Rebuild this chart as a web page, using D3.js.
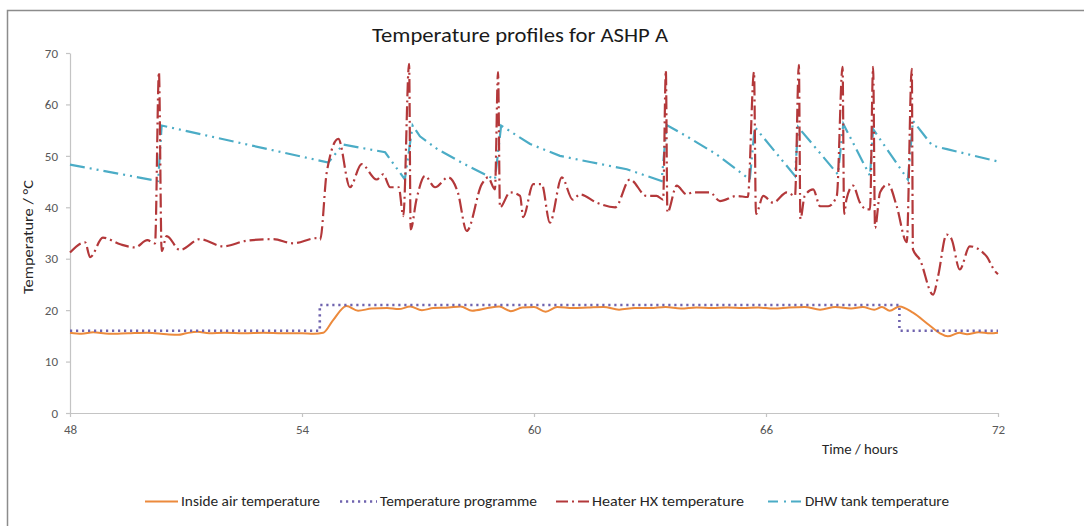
<!DOCTYPE html>
<html><head><meta charset="utf-8">
<script src="https://cdn.jsdelivr.net/npm/d3@7"></script>
<style>
body{margin:0;background:#fff;}
svg{display:block;font-family:Carlito,"Open Sans",sans-serif;}
</style></head>
<body><svg id="c" width="1084" height="526"></svg>
<script>
const xTicks = [48, 54, 60, 66, 72];
const yTicks = [0, 10, 20, 30, 40, 50, 60, 70];
const seriesNames = ["Inside air temperature", "Temperature programme", "Heater HX temperature", "DHW tank temperature"];

const insideAir = [[48,15.6],[48.3,15.4],[48.6,15.7],[49,15.4],[49.5,15.5],[50,15.6],[50.5,15.3],[50.8,15.2],[51,15.5],[51.3,15.8],[51.6,15.5],[52,15.6],[52.5,15.5],[53,15.6],[53.5,15.5],[54,15.5],[54.3,15.4],[54.55,15.6],[54.8,18.0],[55.15,20.8],[55.45,19.9],[55.8,20.3],[56.2,20.4],[56.5,20.2],[56.8,20.7],[57.1,20.0],[57.4,20.4],[57.8,20.5],[58.1,20.7],[58.4,19.9],[58.8,20.4],[59.1,20.7],[59.4,19.8],[59.7,20.5],[60.0,20.6],[60.3,19.7],[60.6,20.6],[61.0,20.4],[61.4,20.5],[61.8,20.6],[62.2,20.1],[62.6,20.4],[63.0,20.4],[63.4,20.6],[63.8,20.3],[64.2,20.5],[64.6,20.4],[65.0,20.5],[65.4,20.4],[65.8,20.5],[66.2,20.3],[66.6,20.5],[67.0,20.6],[67.4,20.1],[67.8,20.6],[68.2,20.3],[68.5,20.6],[68.8,20.1],[69.0,20.6],[69.2,19.9],[69.45,20.7],[69.8,19.5],[70.2,17.2],[70.5,15.5],[70.7,14.9],[71.0,15.6],[71.2,15.3],[71.5,15.7],[71.8,15.5],[72,15.6]];

const programme = [[48,16],[54.46,16],[54.46,21],[69.45,21],[69.45,16],[72,16]];

const heaterHX = [[48.0,31.2],[48.39,33.2],[48.52,30.3],[48.85,34.1],[49.3,32.8],[49.68,32.2],[50.0,33.6],[50.2,33.0],[50.3,66.3],[50.37,31.5],[50.5,34.4],[50.84,31.7],[51.36,33.8],[51.96,32.4],[52.57,33.5],[53.25,33.8],[53.77,33.0],[54.38,34.0],[54.47,33.7],[54.64,46.8],[54.94,53.3],[55.24,43.9],[55.54,48.4],[55.93,45.4],[56.1,46.4],[56.28,43.9],[56.5,43.9],[56.62,38.3],[56.77,67.9],[56.81,35.7],[56.96,41.5],[57.18,46.1],[57.44,43.9],[57.78,45.8],[58.03,42.9],[58.26,35.4],[58.65,44.5],[58.81,45.8],[58.99,43.5],[59.07,66.3],[59.12,40.0],[59.38,42.9],[59.64,42.2],[59.72,38.1],[59.98,44.5],[60.2,44.5],[60.41,37.0],[60.72,45.8],[61.0,41.5],[61.19,42.5],[61.62,40.9],[62.1,40.0],[62.48,45.4],[62.91,42.2],[63.17,42.2],[63.34,41.5],[63.41,66.6],[63.45,39.0],[63.69,44.2],[63.95,42.5],[64.1,42.9],[64.55,42.9],[64.81,41.2],[65.24,42.2],[65.53,42.0],[65.69,66.3],[65.74,38.7],[65.93,42.2],[66.18,40.9],[66.54,42.9],[66.75,42.2],[66.85,67.7],[66.89,37.7],[67.0,42.2],[67.22,43.5],[67.4,40.2],[67.61,40.2],[67.83,42.2],[67.98,67.3],[68.02,38.7],[68.08,41.5],[68.25,44.2],[68.43,40.9],[68.6,39.6],[68.69,39.6],[68.77,67.3],[68.82,36.0],[68.95,42.9],[69.16,44.5],[69.38,40.2],[69.64,33.2],[69.77,66.9],[69.8,31.8],[69.98,29.8],[70.32,23.0],[70.45,26.6],[70.67,34.7],[70.8,33.8],[71.01,27.9],[71.27,32.4],[71.7,30.5],[71.92,27.6],[72,27.0]];

const dhwTank = [[48,48.3],[50.28,45.1],[50.37,55.9],[54.68,48.7],[55.06,52.2],[56.15,50.7],[56.66,45.4],[56.86,55.9],[57.05,53.8],[57.5,51.3],[58.2,48.4],[58.99,45.4],[59.15,55.9],[59.9,52.3],[60.67,50.0],[61.45,48.8],[62.4,47.4],[63.3,45.1],[63.43,56.0],[63.95,53.8],[64.72,50.3],[65.58,45.4],[65.71,55.6],[66.75,46.1],[66.83,55.6],[67.86,46.4],[68.0,56.2],[68.69,46.1],[68.77,55.2],[69.67,45.4],[69.8,56.8],[70.3,52.0],[70.68,51.3],[72,48.9]];

const svg = d3.select("#c");
const colors = ["#EC8A3C", "#6F63AE", "#B3383A", "#4BACC6"];

// outer frame
svg.append("rect").attr("x",7.5).attr("y",10.5).attr("width",1200).attr("height",700)
  .attr("fill","none").attr("stroke","#8c8c8c").attr("stroke-width",1.5);

const x = d3.scaleLinear().domain([48,72]).range([70,998]);
const y = d3.scaleLinear().domain([0,70]).range([413,53]);

const xAxis = svg.append("g").attr("transform","translate(0,413)")
  .call(d3.axisBottom(x).tickValues(xTicks).tickSize(4).tickPadding(8).tickSizeOuter(0));
const yAxis = svg.append("g").attr("transform","translate(70,0)")
  .call(d3.axisLeft(y).tickValues(yTicks).tickSize(4).tickPadding(8).tickSizeOuter(0));
[xAxis,yAxis].forEach(a=>{
  a.selectAll("path,line").attr("stroke","#c4c4c4").attr("stroke-width",1.2);
  a.selectAll("text").attr("fill","#595959").attr("font-size","13px").attr("font-family",'Carlito,"Open Sans",sans-serif');
});

const smooth = d3.line().x(d=>x(d[0])).y(d=>y(d[1])).curve(d3.curveMonotoneX);
const straight = d3.line().x(d=>x(d[0])).y(d=>y(d[1]));

const styles = [
  {data: insideAir, gen: smooth, dash: null, w: 2},
  {data: programme, gen: straight, dash: "2.2 3.8", w: 2.6},
  {data: heaterHX, gen: smooth, dash: "14 4 2 4", w: 2.2},
  {data: dhwTank, gen: straight, dash: "15 5 2 5 2 5", w: 2.2}
];
const drawOrder = [0,1,3,2];
drawOrder.forEach(i=>{
  const s = styles[i];
  svg.append("path").attr("d", s.gen(s.data)).attr("fill","none")
    .attr("stroke", colors[i]).attr("stroke-width", s.w)
    .attr("stroke-dasharray", s.dash);
});

// title
svg.append("text").attr("x",520).attr("y",42).attr("text-anchor","middle")
  .attr("font-size","20px").attr("fill","#1a1a1a")
  .attr("textLength",296).attr("lengthAdjust","spacingAndGlyphs")
  .text("Temperature profiles for ASHP A");

// axis titles
svg.append("text").attr("transform","translate(33,237) rotate(-90)")
  .attr("text-anchor","middle").attr("font-size","13.5px").attr("fill","#262626")
  .attr("textLength",114).attr("lengthAdjust","spacingAndGlyphs")
  .text("Temperature / °C");
svg.append("text").attr("x",860).attr("y",454).attr("text-anchor","middle")
  .attr("font-size","13.5px").attr("fill","#262626")
  .attr("textLength",76).attr("lengthAdjust","spacingAndGlyphs")
  .text("Time / hours");

// legend
const legendItems = [
  {x0:145, x1:178, tx:181, tw:139},
  {x0:340, x1:377, tx:380, tw:157},
  {x0:556, x1:589, tx:592, tw:152},
  {x0:768, x1:801, tx:805, tw:144}
];
const legendDash = [null, "2.2 3.8", "12 4 2 4", "10 6 2 5"];
legendItems.forEach((it,i)=>{
  svg.append("line").attr("x1",it.x0).attr("x2",it.x1).attr("y1",501.5).attr("y2",501.5)
    .attr("stroke",colors[i]).attr("stroke-width",styles[i].w)
    .attr("stroke-dasharray",legendDash[i]);
  svg.append("text").attr("x",it.tx).attr("y",506).attr("font-size","13.5px").attr("fill","#262626")
    .attr("textLength",it.tw).attr("lengthAdjust","spacingAndGlyphs")
    .text(seriesNames[i]);
});
</script></body></html>
